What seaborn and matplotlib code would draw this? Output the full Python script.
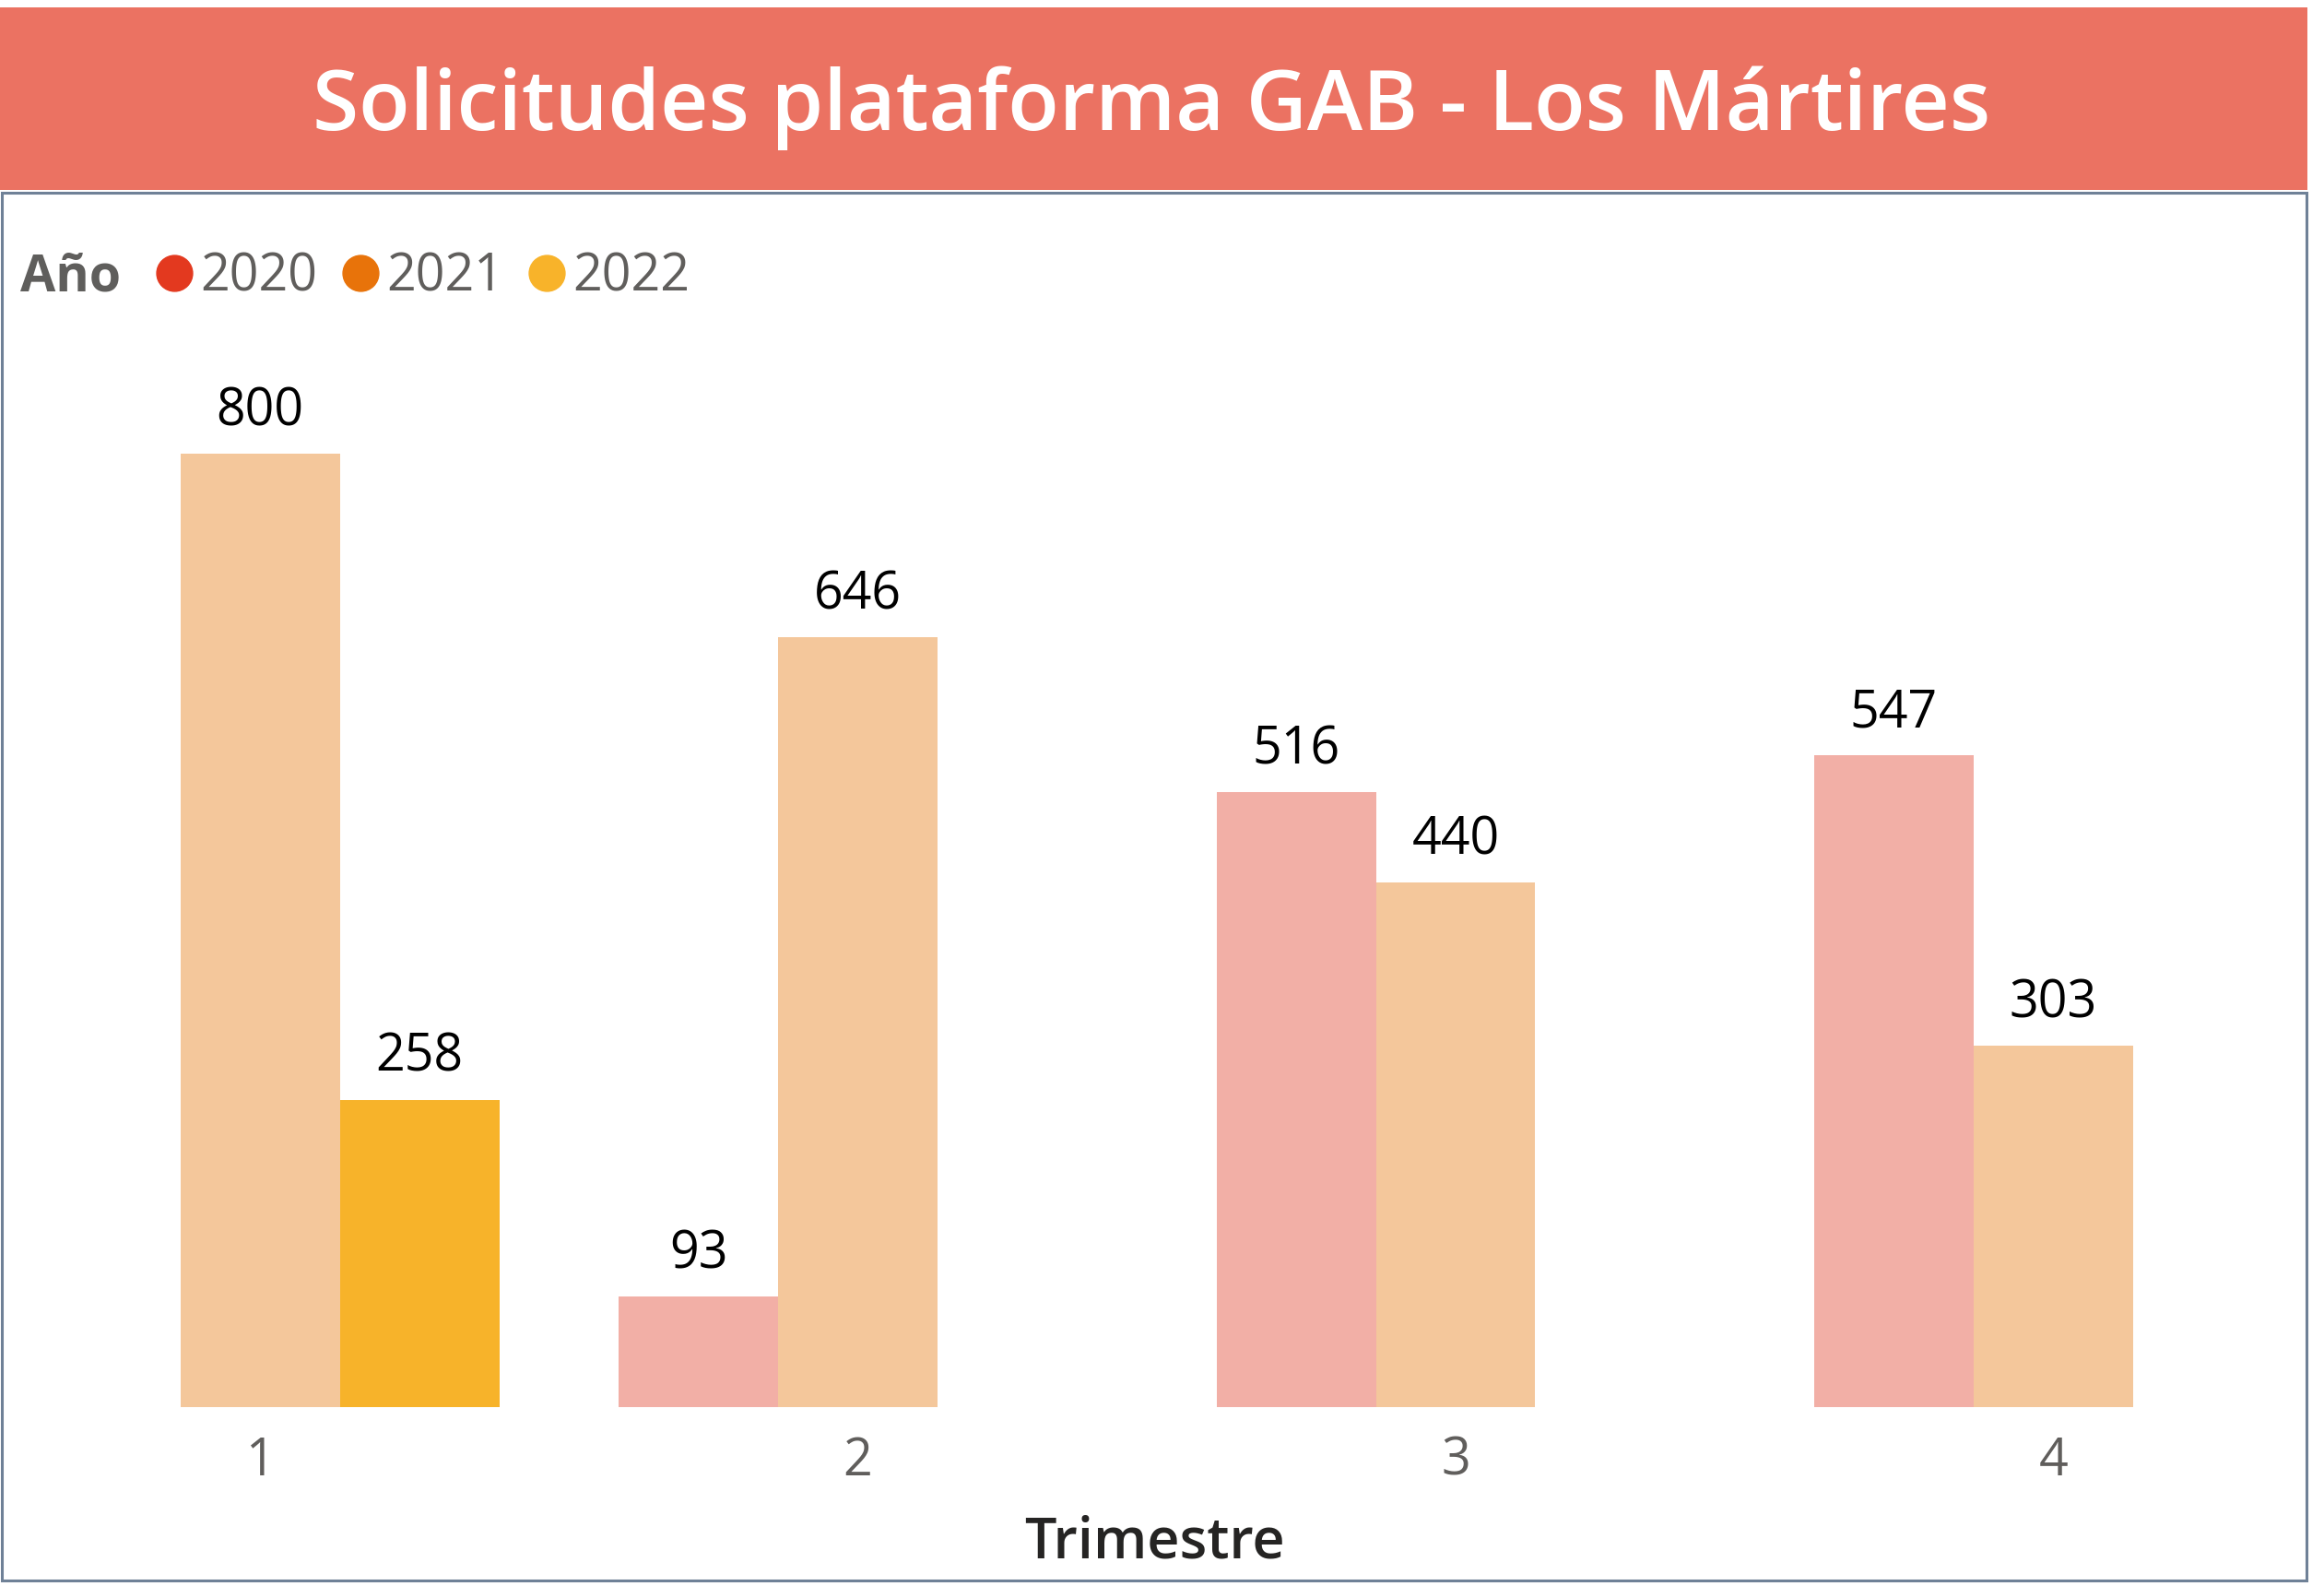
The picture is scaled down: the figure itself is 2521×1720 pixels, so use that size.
"""
Solicitudes plataforma GAB - Los Mártires, grouped bars per quarter.
"""

import matplotlib.pyplot as plt
import pandas as pd
import seaborn as sns
from matplotlib.lines import Line2D
from matplotlib.patches import Rectangle

# data
trimestres = [1, 1, 2, 2, 3, 3, 4, 4]
anios = ['2021', '2022', '2020', '2021', '2020', '2021', '2020', '2021']
solicitudes = [800, 258, 93, 646, 516, 440, 547, 303]

anio_orden = ['2020', '2021', '2022']
colores_barra = ['#F2AFA6', '#F4C79B', '#F7B32A']
colores_leyenda = ['#E3391F', '#E8730A', '#F8B32A']

TITULO = 'Solicitudes plataforma GAB - Los Mártires'
FUENTE = ['Open Sans', 'DejaVu Sans']

sns.set_style('white')
plt.rcParams['font.family'] = FUENTE

W, H = 2521, 1720
fig = plt.figure(figsize=(W / 100, H / 100), dpi=100)

df = pd.DataFrame({'Trimestre': trimestres, 'Año': anios, 'Solicitudes': solicitudes})

ax = fig.add_axes([30 / W, 0.1128, 2460 / W, 0.6763])
sns.barplot(
    data=df, x='Trimestre', y='Solicitudes', hue='Año',
    hue_order=anio_orden, palette=dict(zip(anio_orden, colores_barra)),
    width=0.8, dodge=True, saturation=1, errorbar=None, legend=False,
    linewidth=0, ax=ax,
)
for c in ax.containers:
    ax.bar_label(c, padding=12, fontsize=40, color='black')

ax.set_xlim(-0.389, 3.405)
ax.set_ylim(0, 900)
ax.set_yticks([])
ax.set_ylabel('')
ax.tick_params(axis='x', length=0, pad=22, labelsize=40, labelcolor='#605E5C')
ax.set_xlabel('Trimestre', fontsize=44, fontweight='semibold', color='#252423', va='center')
ax.xaxis.set_label_coords(0.497, -0.127)
ax.set_facecolor('none')
sns.despine(ax=ax, left=True, bottom=True)

# title bar and frame
fig.add_artist(Rectangle((0, 1 - 206 / H), 2503 / W, 198 / H,
                         transform=fig.transFigure, facecolor='#EB7262', edgecolor='none'))
fig.add_artist(Rectangle((2 / W, 1 - 1714 / H), 2500 / W, 1505 / H,
                         transform=fig.transFigure, facecolor='none',
                         edgecolor='#6F8197', linewidth=2.2))
fig.text(0.4955, 0.932, TITULO, ha='center', va='center', color='white',
         fontsize=65.5, fontweight='semibold')

# legend
fig.text(22 / W, 0.825, 'Año', fontsize=40, fontweight='bold', color='#5F5E5C', va='center')
handles = [Line2D([], [], marker='o', linestyle='', markersize=28, color=c) for c in colores_leyenda]
leg = fig.legend(
    handles, anio_orden, loc='center left', bbox_to_anchor=(170 / W, 0.825),
    ncol=3, frameon=False, fontsize=40, handlelength=0.7, handletextpad=0.15,
    columnspacing=0.5, borderpad=0, borderaxespad=0,
)
for t in leg.get_texts():
    t.set_color('#605E5C')

fig.savefig('out.png', dpi=100, facecolor='white')
